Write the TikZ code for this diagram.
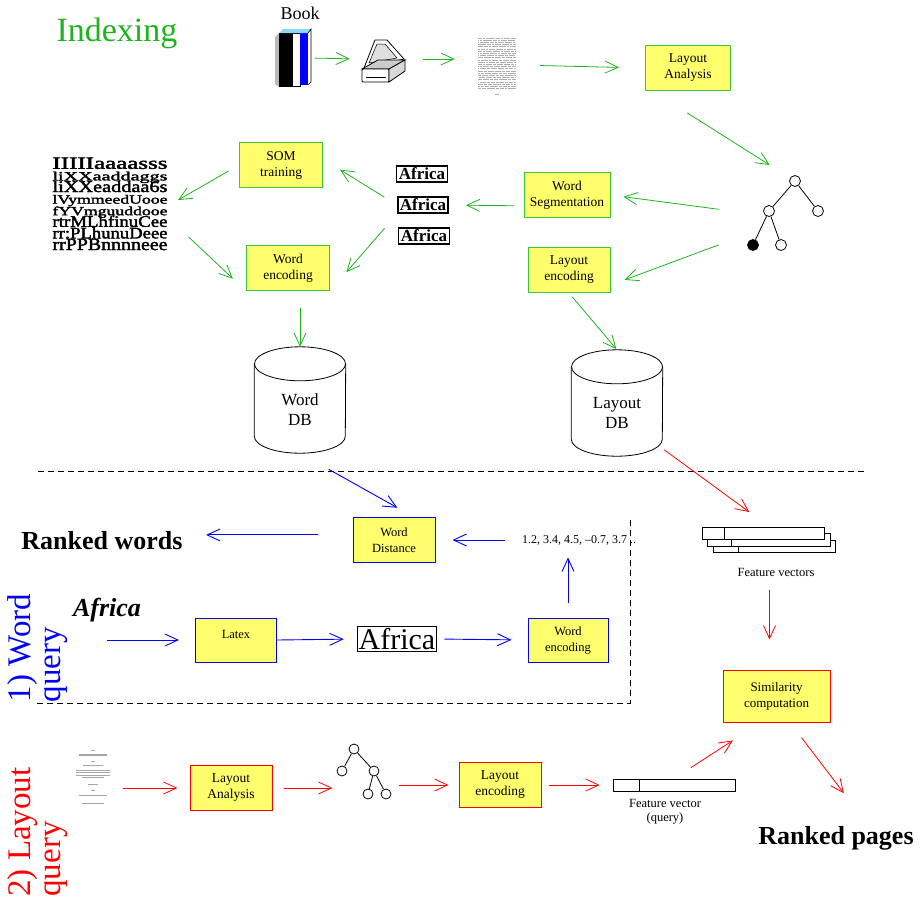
\documentclass[tikz,border=0pt]{standalone}
\usepackage{fontspec}
\setmainfont{Liberation Serif}
\newfontfamily\mapfont[FakeBold=2]{Liberation Serif}
\usetikzlibrary{arrows.meta,positioning,fit}

\definecolor{idxgreen}{RGB}{30,180,30}
\definecolor{boxgreen}{RGB}{60,200,60}
\definecolor{boxyellow}{RGB}{255,255,110}
\definecolor{qblue}{RGB}{0,0,255}
\definecolor{qred}{RGB}{255,0,0}

\newcommand{\fsz}[2]{\fontsize{#1}{#2}\selectfont}
% one row of the word map, squeezed into a fixed cell
\newcommand{\maprow}[1]{\hbox{\raisebox{0pt}[9.2pt][2.4pt]{\resizebox*{115pt}{11.4pt}{\mapfont #1}}}}

\begin{document}
\begin{tikzpicture}[x=1pt,y=-1pt,>={Straight Barb[length=13pt,width=12pt]},
    box/.style={draw,fill=boxyellow,line width=1pt,minimum width=82pt,minimum height=45pt,
      inner sep=2pt,align=center,font=\fsz{13.5}{16}},
    index box/.style={box,draw=boxgreen},
    word box/.style={box,draw=qblue,font=\fsz{12.5}{16}},
    layout box/.style={box,draw=qred},
    index arrow/.style={->,draw=idxgreen,line width=0.8pt},
    word arrow/.style={->,draw=qblue,line width=0.9pt},
    layout arrow/.style={->,draw=qred,line width=0.8pt},
    leaf/.style={circle,draw,line width=0.8pt,minimum size=11pt,inner sep=0pt},
    icon/.style={inner sep=0pt,minimum width=#1},
    db/.style={minimum width=91pt,minimum height=106pt,inner sep=0pt,
      label={[font=\fsz{17}{20},align=center,yshift=-10pt]center:#1}},
    wordimg/.style={draw,line width=1.2pt,inner sep=2pt,font=\bfseries\fsz{17}{17}}]

  \useasboundingbox (0,0) rectangle (921,906);

  % ---------------- indexing ----------------
  \node[font=\fsz{34}{34},text=idxgreen] (title) at (117,33) {Indexing};
  \node[font=\fsz{18}{18}] (booklabel) at (300,13) {Book};
  \node[icon=35pt,minimum height=57pt] (book) at (292,58) {};
  \node[icon=46pt,minimum height=47pt] (scanner) at (383,59) {};
  \node[icon=40pt,minimum height=60pt] (page) at (497,65) {};
  \node[index box,minimum width=85pt] (layana) at (688,68) {Layout\\Analysis};

  % book
  \fill[gray!55] (275,37) -- (279,33) -- (279,87) -- (275,84) -- cycle;
  \fill[black] (279,33) rectangle (292,87);
  \draw[fill=white,line width=0.6pt] (292,33) rectangle (300,86);
  \fill[qblue] (300,33) rectangle (308,85);
  \fill[cyan!45] (279,33) -- (283,29) -- (311,29) -- (308,33) -- cycle;
  \draw[line width=0.6pt] (308,33) -- (311,29) -- (311,82) -- (308,85);

  % scanner
  \draw[line width=0.8pt,fill=white] (364,68) -- (375,40) -- (387,40) -- (404,59) -- cycle;
  \draw[line width=0.5pt,fill=gray!25] (369,63) -- (377,44) -- (385,44) -- (397,58) -- cycle;
  \draw[line width=0.8pt,fill=gray!40] (362,69) -- (378,60) -- (405,60) -- (389,69) -- cycle;
  \draw[line width=0.8pt,fill=white,rounded corners=1pt] (362,69) rectangle (389,82);
  \draw[line width=0.8pt,fill=gray!30] (389,69) -- (405,60) -- (405,71) -- (389,82) -- cycle;
  \draw[line width=0.6pt] (366,77) -- (386,77);

  % scanned page
  \foreach \r in {0,...,23}
    \draw[gray!65,line width=0.7pt,dash pattern=on 4pt off 0.8pt on 2pt off 0.8pt on 6pt off 0.8pt on 3pt off 0.8pt,
          dash phase=\r*3pt] (478,38+2.2*\r) -- (516,38+2.2*\r);
  \draw[gray!65,line width=0.7pt] (495,94) -- (499,94);

  % layout tree
  \node[leaf] (t1) at (795,181) {};
  \node[leaf] (t2) at (769,211) {};
  \node[leaf] (t3) at (818,211) {};
  \node[leaf,fill=black] (t4) at (753,245) {};
  \node[leaf] (t5) at (781,245) {};
  \draw[line width=0.8pt] (t1) -- (t2) (t1) -- (t3) (t2) -- (t4) (t2) -- (t5);
  \node[fit=(t1)(t2)(t3)(t4)(t5),inner sep=0pt] (tree) {};

  \node[index box,minimum width=86pt] (wordseg) at (567,195) {Word\\Segmentation};
  \node[index box] (layenc) at (569,270) {Layout\\encoding};
  \node[wordimg] (africa1) at (422,174) {Africa};
  \node[wordimg,line width=1.6pt] (africa2) at (423,205) {Africa};
  \node[wordimg] (africa3) at (424,236) {Africa};
  \node[index box,minimum width=83pt] (som) at (281,165) {SOM\\training};
  \node[index box,minimum width=83pt] (wordenc) at (288,268) {Word\\encoding};

  % self-organising map of word images
  \node[inner sep=0pt] (map) at (110,206) {\vbox{\offinterlineskip
      \maprow{IIIIIaaaasss}\maprow{liXXaaddaggs}\maprow{liXXeaddaa6s}\maprow{lVymmeedUooe}
      \maprow{fYVmguuddooe}\maprow{rtrMLhfinuCee}\maprow{rr:PLhunuDeee}\maprow{rrPPBnnnneee}}};

  % databases
  \node[db={Word\\DB}] (worddb) at (300,400) {};
  \node[db={Layout\\DB}] (layoutdb) at (617,403) {};
  \foreach \d in {worddb,layoutdb} {
    \draw[line width=0.8pt] ([yshift=-17pt]\d.north) ellipse [x radius=45.5pt,y radius=17pt];
    \draw[line width=0.8pt] ([yshift=-17pt]\d.north west) -- ([yshift=17pt]\d.south west)
      arc [start angle=180,end angle=360,x radius=45.5pt,y radius=17pt]
      -- ([yshift=-17pt]\d.north east);
  }

  \path[every edge/.append style={index arrow}]
    (book.east) edge[shorten <=5pt,shorten >=10pt] (scanner.west)
    (scanner.east) edge[shorten <=17pt,shorten >=22pt] (scanner.east -| page.west)
    (page.east) edge[shorten <=23pt,shorten >=26pt] (layana.west)
    (layana.213) edge[shorten <=41pt,shorten >=24pt] (t1)
    (tree.west) edge[shorten <=28pt,shorten >=13pt] (wordseg.east)
    (tree.209) edge[shorten <=30pt,shorten >=15pt] (layenc.340)
    (wordseg.194) edge[shorten <=9pt,shorten >=17pt] (africa2.east)
    (africa2.west) edge[shorten <=15pt,shorten >=20pt] (som.8)
    (som.west) edge[shorten <=12pt,shorten >=12pt] (map.east)
    (map.349) edge[shorten <=29pt,shorten >=18pt] (wordenc.south west)
    (africa2.south west) edge[shorten <=19pt,shorten >=25pt] (wordenc.south east)
    (wordenc.south -| worddb.north) edge[shorten <=17pt] (worddb.north)
    (layenc.south) edge[shorten <=5pt,shorten >=1pt] (layoutdb.north);

  \draw[line width=0.8pt,dash pattern=on 6pt off 4pt] (38,471) -- (866,471);

  % ---------------- word query ----------------
  \node[word box] (wdist) at (394,540) {Word\\Distance};
  \node[font=\fsz{12}{12}] (nums) at (579,540) {1.2, 3.4, 4.5, --0.7, 3.7 ..};
  \node[font=\bfseries\fsz{26}{26}] (rankw) at (102,541) {Ranked words};
  \node[font=\bfseries\itshape\fsz{26}{26}] (africaq) at (107,610) {Africa};
  \node[word box,minimum width=81pt,minimum height=44pt,text depth=12pt] (latex) at (236,640) {Latex};
  \node[draw,line width=1pt,inner sep=1.5pt,font=\fsz{30}{30}] (aimg) at (397,639) {Africa};
  \node[word box,minimum width=80pt,minimum height=44pt] (wordenc2) at (568,640) {Word\\encoding};
  \node[rotate=90,align=left,font=\fsz{33}{30},text=qblue] (wordq) at (38,648) {1) Word\\query};

  \draw[line width=0.9pt,dash pattern=on 6pt off 4pt] (630,520) -- (630,703) -- (35,703);

  \path[every edge/.append style={word arrow}]
    (worddb.south) edge[shorten <=33pt,shorten >=19pt] (wdist.49)
    (nums.west) edge[shorten <=13pt,shorten >=17pt] (wdist.east)
    (wdist.173) edge[shorten <=35pt,shorten >=20pt] (wdist.173 -| rankw.east)
    (latex.west -| africaq.south) edge[shorten >=16pt] (latex.west)
    (latex.east) edge[shorten >=13pt] (aimg.west)
    (aimg.east) edge[shorten <=7pt,shorten >=16pt] (wordenc2.west)
    (wordenc2.north) edge[shorten <=15pt,shorten >=9pt] (wordenc2.north |- nums.south);

  % ---------------- layout query ----------------
  \foreach \k in {2,1,0} {
    \draw[fill=white,line width=0.8pt] (702+5.5*\k,527+6.5*\k) rectangle +(122.5,12.5);
    \draw[line width=0.8pt] (724+7*\k,527+6.5*\k) -- +(0,12.5);
  }
  \node[fit={(702,527) (837,552)},inner sep=0pt] (fvec) {};
  \node[font=\fsz{12.5}{15}] (fvlabel) at (776,572) {Feature vectors};
  \node[layout box,minimum width=107pt,minimum height=52pt,font=\fsz{13}{16}] (sim) at (776.5,696) {Similarity\\computation};
  \node[font=\bfseries\fsz{26}{26}] (rankp) at (836,838) {Ranked pages};

  \node[icon=37pt,minimum height=62pt] (qpage) at (93,780) {};
  \foreach \y/\w/\lw in {750/4/0.5,755/28/1.1,761/4/0.5,765/20/0.6,770/34/0.6,772.5/34/0.6,
                         775/34/0.6,777.5/22/0.6,784/10/0.6,790/4/0.5,795/28/0.9,803/22/0.6}
    \draw[gray!70,line width=\lw pt] (93-\w/2,\y) -- (93+\w/2,\y);
  \node[layout box] (la2) at (231,788) {Layout\\Analysis};

  \node[leaf,minimum size=10pt] (q1) at (354,749) {};
  \node[leaf,minimum size=10pt] (q2) at (342,771) {};
  \node[leaf,minimum size=10pt] (q3) at (374,771) {};
  \node[leaf,minimum size=10pt] (q4) at (368,794) {};
  \node[leaf,minimum size=10pt] (q5) at (386,794) {};
  \draw[line width=0.8pt] (q1) -- (q2) (q1) -- (q3) (q3) -- (q4) (q3) -- (q5);
  \node[fit=(q1)(q2)(q3)(q4)(q5),inner sep=0pt] (tree2) {};

  \node[layout box] (le2) at (500,785) {Layout\\encoding};
  \node[draw,line width=0.8pt,minimum width=122pt,minimum height=12pt,inner sep=0pt] (qvec) at (674,785) {};
  \draw[line width=0.8pt] ([xshift=27pt]qvec.north west) -- ([xshift=27pt]qvec.south west);
  \node[font=\fsz{12.5}{14},align=center] (qvlabel) at (665,812) {Feature vector\\(query)};
  \node[rotate=90,align=left,font=\fsz{33}{30},text=qred] (layoutq) at (38,832) {2) Layout\\query};

  \path[every edge/.append style={layout arrow}]
    (layoutdb.-45) edge[shorten <=2pt,shorten >=25pt] (fvec.north)
    (fvec.south) edge[shorten <=38pt,shorten >=30pt] (fvec.south |- sim.north)
    (sim.-63) edge[shorten <=19pt,shorten >=37pt] (rankp.27)
    (la2.west -| qpage.east) edge[shorten <=11pt,shorten >=12pt] (la2.west)
    (la2.east) edge[shorten <=11pt,shorten >=4pt] (la2.east -| tree2.west)
    (tree2.east |- le2.west) edge[shorten <=7pt,shorten >=10pt] (le2.west)
    (le2.east) edge[shorten <=7pt,shorten >=13pt] (qvec.west)
    (qvec.north) edge[shorten <=20pt,shorten >=33pt] (sim.239);
\end{tikzpicture}
\end{document}
